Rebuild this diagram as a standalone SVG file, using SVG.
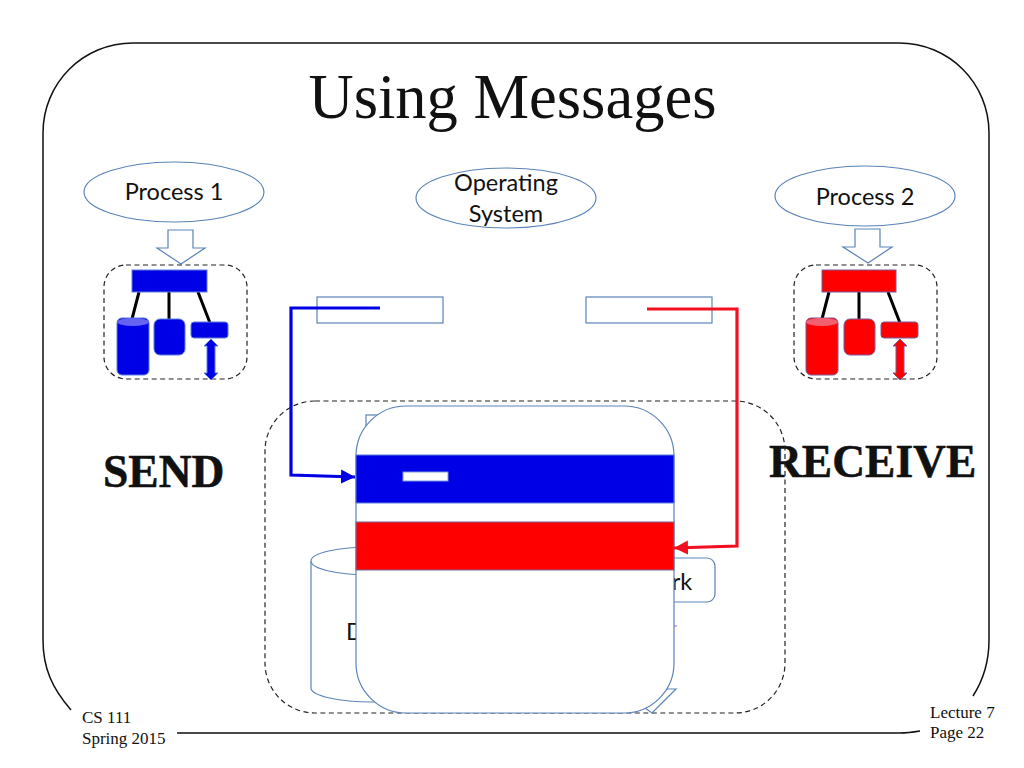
<svg xmlns="http://www.w3.org/2000/svg" width="1024" height="768" viewBox="0 0 1024 768">
<style>
.o{fill:#fff;stroke:#5b84b8;stroke-width:1.2}
.t{font-family:"Lato","Open Sans",sans-serif;font-size:23.5px;fill:#111;text-anchor:middle}
.s{font-family:"Liberation Serif",serif;fill:#111}
.b{font-family:"Liberation Serif",serif;font-weight:bold;font-size:45.5px;fill:#111;stroke:#111;stroke-width:.5}
.d{fill:none;stroke:#222;stroke-width:1.2;stroke-dasharray:5 3.5}
.k{stroke:#000;stroke-width:3;fill:none}
.bl{fill:#0000e6;stroke:#5b7fd8;stroke-width:1}
.rd{fill:#f00;stroke:#7a5a9a;stroke-width:1}
</style>
<defs>
<marker id="ab" markerUnits="userSpaceOnUse" markerWidth="15" markerHeight="15" refX="14" refY="7.5" orient="auto"><path d="M0 0.5L14 7.5L0 14.5Z" fill="#0000e6"/></marker>
<marker id="ar" markerUnits="userSpaceOnUse" markerWidth="15" markerHeight="15" refX="14" refY="7.5" orient="auto"><path d="M0 0.5L14 7.5L0 14.5Z" fill="#f01020"/></marker>
</defs>
<rect width="1024" height="768" fill="#fff"/>
<g id="frame" fill="none" stroke="#111" stroke-width="1.5">
<path d="M71 710C52 688 43 668 43 640V133C43 83 83 43 133 43H899C949 43 989 83 989 133V640C989 662 982 682 973 696"/>
<path d="M177 733H900C908 733 914 732 920 731"/>
</g>
<text id="title" class="s" x="512.500" y="118" font-size="62.500" text-anchor="middle">Using Messages</text>
<g id="process1"><ellipse class="o" cx="174" cy="192" rx="90" ry="30"/><text class="t" x="174" y="200">Process 1</text></g>
<g id="os"><ellipse class="o" cx="506" cy="198" rx="90" ry="30"/><text class="t" x="506" y="191">Operating</text><text class="t" x="506" y="222">System</text></g>
<g id="process2"><ellipse class="o" cx="865" cy="196" rx="90" ry="30"/><text class="t" x="865" y="205">Process 2</text></g>
<g id="arrow1"><path class="o" d="M168 230H193V248H205L181 264L157 248H168Z"/></g>
<g id="arrow2"><path class="o" d="M855 229H880V247H892L868 263L843 247H855Z"/></g>
<g id="tree1">
<rect class="d" x="104" y="265" width="143" height="114" rx="22"/>
<path class="k" d="M139 292L132 319M169 292V319M198 292L210 323"/>
<rect class="bl" x="132" y="270" width="75" height="22"/>
<rect class="bl" x="117" y="318" width="32" height="57" rx="5"/>
<ellipse cx="133" cy="322" rx="16" ry="4" fill="#6464f0"/>
<rect class="bl" x="154" y="319" width="31" height="36" rx="6"/>
<rect class="bl" x="191" y="322" width="37" height="16" rx="3"/>
<path class="bl" d="M211 339L218 346H215V373H218L211 380L204 373H207V346H204Z"/>
</g>
<g id="tree2">
<rect class="d" x="794" y="265" width="143" height="114" rx="22"/>
<path class="k" d="M829 292L822 319M859 292V319M888 292L900 323"/>
<rect class="rd" x="822" y="270" width="74" height="22"/>
<rect class="rd" x="806" y="318" width="32" height="57" rx="5"/>
<ellipse cx="822" cy="322" rx="16" ry="4" fill="#f06070"/>
<rect class="rd" x="844" y="319" width="31" height="36" rx="6"/>
<rect class="rd" x="881" y="322" width="37" height="16" rx="3"/>
<path class="rd" d="M900 339L907 346H904V373H907L900 380L893 373H896V346H893Z"/>
</g>
<g id="msg1"><rect class="o" x="317" y="297" width="126" height="26"/></g>
<g id="msg2"><rect class="o" x="586" y="297" width="126" height="26"/></g>
<text id="send" class="b" x="103" y="487">SEND</text>
<text id="receive" class="b" x="769" y="477">RECEIVE</text>
<g id="os-box"><rect class="d" x="265" y="401" width="520" height="312" rx="50"/></g>
<g id="back">
<rect class="o" x="366" y="415" width="40" height="30"/>
<path class="o" d="M311 561C311 553 338 547 372 547S430 553 430 561V688C430 696 404 702 372 702S311 696 311 688Z"/>
<path class="o" fill="none" d="M311 561C311 569 338 575 372 575"/>
<text class="t" x="355" y="640">D</text>
<rect class="o" x="640" y="558" width="75" height="44" rx="8"/>
<text class="t" x="682" y="590">rk</text>
<path class="o" d="M645 708L652 713L676 689L667 689Z"/>
<path d="M674 626H677" stroke="#5b84b8" stroke-width="1"/>
</g>
<g id="cover">
<rect class="o" x="356" y="406" width="318" height="307" rx="50"/>
<rect x="356" y="455" width="318" height="48" fill="#0000e6" stroke="#5b7fd8" stroke-width="1"/>
<rect x="356" y="522" width="318" height="48" fill="#f00" stroke="#7a6a9a" stroke-width="1"/>
<rect x="403" y="472" width="45" height="9" fill="#fff" stroke="#7a9ae0" stroke-width="1"/>
</g>
<g id="connectors" fill="none" stroke-width="3.200">
<path d="M380 308H291V475L355 477" stroke="#0000e6" marker-end="url(#ab)"/>
<path d="M647 309H737V546L674 548" stroke="#f01020" marker-end="url(#ar)"/>
</g>
<g id="footer" class="s" font-size="17">
<text x="82" y="723">CS 111</text><text x="82" y="744">Spring 2015</text>
<text x="930" y="718">Lecture 7</text><text x="930" y="738">Page 22</text>
</g>
</svg>
